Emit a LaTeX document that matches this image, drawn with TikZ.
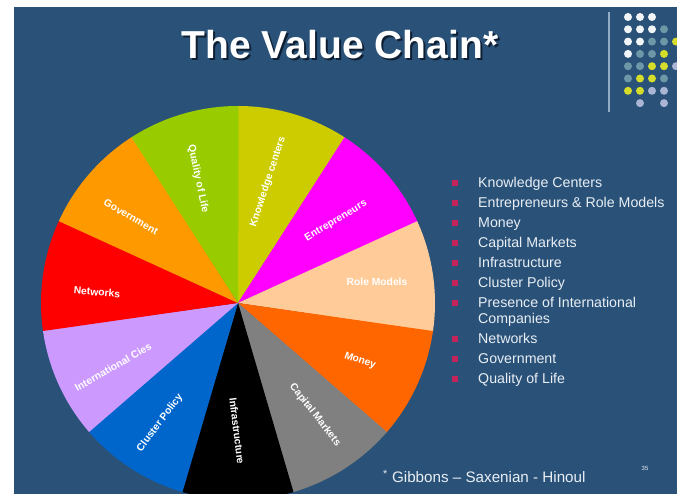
\documentclass[tikz,border=0pt]{standalone}
\usepackage{fontspec}
\setmainfont{Liberation Sans}
\setsansfont{Liberation Sans}
\definecolor{vchainbg}{HTML}{2A5279}
\definecolor{vchainshadow}{HTML}{0F1F33}
\definecolor{vchainrule}{HTML}{93ACC6}
\definecolor{vchaintext}{HTML}{E8EEF4}
\definecolor{vchainbullet}{HTML}{C4245A}
\definecolor{pieknow}{HTML}{CCCC00}
\definecolor{pieentre}{HTML}{FF00FF}
\definecolor{pierole}{HTML}{FFCC99}
\definecolor{piemoney}{HTML}{FF6600}
\definecolor{piecapital}{HTML}{808080}
\definecolor{pieinfra}{HTML}{000000}
\definecolor{piecluster}{HTML}{0066CC}
\definecolor{pieintl}{HTML}{CC99FF}
\definecolor{pienet}{HTML}{FF0000}
\definecolor{piegov}{HTML}{FF9900}
\definecolor{piequality}{HTML}{99CC00}
\definecolor{dotwhite}{HTML}{F2F5F8}
\definecolor{dotteal}{HTML}{6E97A8}
\definecolor{dotlime}{HTML}{D6DC2A}
\definecolor{dotlilac}{HTML}{AAB5D3}

\begin{document}
\begin{tikzpicture}[x=1pt,y=1pt,font=\sffamily]
  \tikzstyle{slicelabel}=[text=white, inner sep=0pt, font=\fontsize{10.3}{12}\selectfont\bfseries\sffamily]
  \tikzstyle{legend}=[text=vchaintext, inner sep=0pt, anchor=base west, font=\fontsize{14.2}{17}\selectfont\sffamily]
  \tikzstyle{bullet}=[fill=vchainbullet, minimum size=5.5pt, inner sep=0pt]
  \tikzstyle{heading}=[inner sep=0pt, font=\fontsize{39}{44}\selectfont\bfseries\sffamily]

  \path[use as bounding box] (0,0) rectangle (677,494);
  \fill[white] (0,0) rectangle (677,494);
  \fill[vchainbg] (14,0) rectangle (677,487);

  % Title with drop shadow.
  \node[heading, text=vchainshadow] (titleshadow) at (342,447) {The Value Chain*};
  \node[heading, text=white] (title) at (340,449) {The Value Chain*};

  % Corner ornament: rule and dot grid.
  \draw[vchainrule, line width=1.2pt] (609,482) -- (609,382);
  \foreach \r/\rowcols in {0/{1/dotwhite,2/dotwhite,3/dotwhite},
    1/{1/dotwhite,2/dotwhite,3/dotwhite,4/dotteal},
    2/{1/dotwhite,2/dotwhite,3/dotteal,4/dotteal,5/dotlime},
    3/{1/dotwhite,2/dotteal,3/dotteal,4/dotlime},
    4/{1/dotteal,2/dotteal,3/dotlime,4/dotlime,5/dotlilac},
    5/{1/dotteal,2/dotlime,3/dotlime,4/dotteal},
    6/{1/dotlime,2/dotlime,3/dotlilac,4/dotlilac},
    7/{2/dotlilac,4/dotlilac}} {
    \foreach \c/\col in \rowcols {
      \fill[\col] (616+12*\c,477-12.3*\r) circle (4pt);
    }
  }

  % Pie: eleven equal slices, clockwise from the top.
  \coordinate (pie) at (238,191);
  \foreach \i/\col in {0/pieknow,1/pieentre,2/pierole,3/piemoney,4/piecapital,
      5/pieinfra,6/piecluster,7/pieintl,8/pienet,9/piegov,10/piequality} {
    \fill[\col] (pie) -- ++({90-\i*360/11}:197pt)
      arc[start angle={90-\i*360/11}, delta angle={-360/11-0.2}, radius=197pt] -- cycle;
  }
  \foreach \x/\y/\rot/\lab [count=\i] in {
    268/312/72/Knowledge centers,
    336/273/31/Entrepreneurs,
    377/212/0/Role Models,
    360/133/-19/Money,
    315/79/-52/Capital Markets,
    237/63/-83/Infrastructure,
    160/71/53/Cluster Policy,
    113/127/30/International Cies,
    97/202/-5/Networks,
    131/277/-30/Government,
    198/315/-78/Quality of Life
  } {
    \node[slicelabel, rotate=\rot] (slab\i) at (\x,\y) {\lab};
  }

  % Legend.
  \foreach \y/\lab/\b [count=\i] in {
    311/Knowledge Centers/1,
    291/Entrepreneurs \& Role Models/1,
    271/Money/1,
    251/Capital Markets/1,
    231/Infrastructure/1,
    211/Cluster Policy/1,
    191/Presence of International/1,
    175/Companies/0,
    155/Networks/1,
    135/Government/1,
    115/Quality of Life/1
  } {
    \ifnum\b=1 \node[bullet] (bul\i) at (455,\y) {}; \fi
    \node[legend] (leg\i) at (478,\y-5) {\lab};
  }

  \node[legend, font=\fontsize{15.2}{18}\selectfont\sffamily] (source) at (383,11)
    {\textsuperscript{*} Gibbons -- Saxenian - Hinoul};
  \node[text=vchaintext, inner sep=0pt, font=\fontsize{6}{7}\selectfont\sffamily] (pagenum) at (645,26) {35};
\end{tikzpicture}
\end{document}
